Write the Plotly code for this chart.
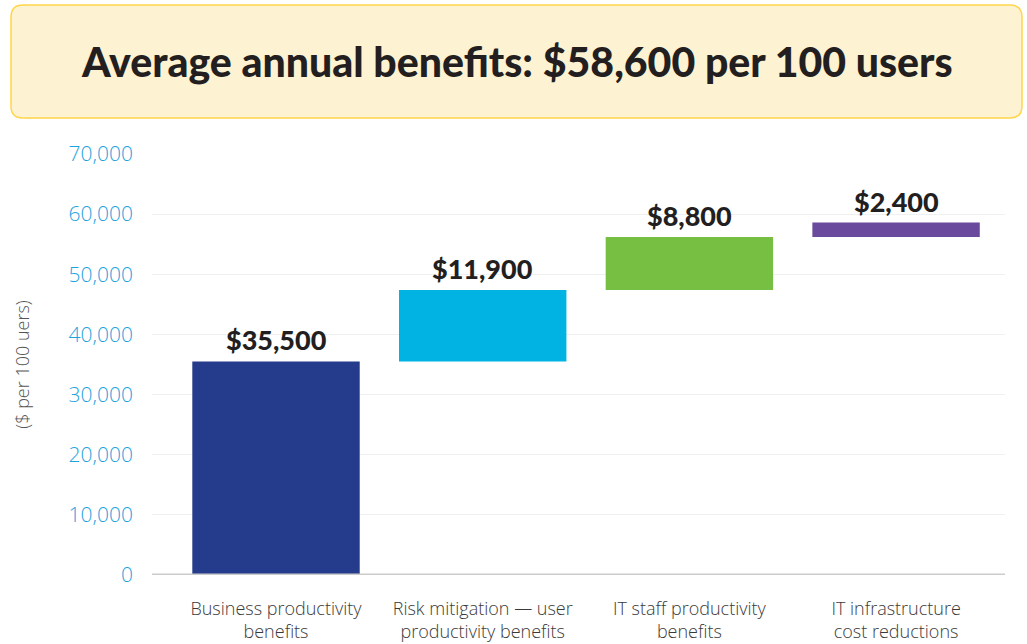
import plotly.graph_objects as go

categories = ["Business productivity<br>benefits",
              "Risk mitigation — user<br>productivity benefits",
              "IT staff productivity<br>benefits",
              "IT infrastructure<br>cost reductions"]
values = [35500, 11900, 8800, 2400]
labels = ["$35,500", "$11,900", "$8,800", "$2,400"]
colors = ["#243C8B", "#00B3E2", "#76BF43", "#6A4A9C"]
title_text = "Average annual benefits: $58,600 per 100 users"
y_title = "($ per 100 uers)"
y_ticks = [0, 10000, 20000, 30000, 40000, 50000, 60000, 70000]

bases = []
acc = 0
for v in values:
    bases.append(acc)
    acc += v

W, H = 1027, 644
ML, MR, MT, MB = 152, 22, 154, 69
PW, PH = W - ML - MR, H - MT - MB

fig = go.Figure()
fig.add_trace(go.Bar(
    x=categories, y=values, base=bases,
    marker=dict(color=colors, line=dict(width=0)),
    width=0.81, hoverinfo="skip",
))

for c, b, v, t in zip(categories, bases, values, labels):
    fig.add_annotation(x=c, y=b + v, text=t, showarrow=False, yanchor="bottom",
                       yshift=3, xref="x", yref="y",
                       font=dict(family="Lato, Open Sans, sans-serif", size=27,
                                 color="#231F20", weight=900))

def px2paper(px, py):
    return (px - ML) / PW, (MT + PH - py) / PH

# rounded title box
x0, y0, x1, y1, r = 11, 5, 1022, 118, 12
def P(px, py):
    a, b = px2paper(px, py)
    return f"{a:.5f},{b:.5f}"
path = (f"M {P(x0 + r, y0)} L {P(x1 - r, y0)} Q {P(x1, y0)} {P(x1, y0 + r)} "
        f"L {P(x1, y1 - r)} Q {P(x1, y1)} {P(x1 - r, y1)} "
        f"L {P(x0 + r, y1)} Q {P(x0, y1)} {P(x0, y1 - r)} "
        f"L {P(x0, y0 + r)} Q {P(x0, y0)} {P(x0 + r, y0)} Z")
fig.add_shape(type="path", path=path, xref="paper", yref="paper",
              fillcolor="#FDF2D1", line=dict(color="#FFD54A", width=1.5), layer="below")

tx, ty = px2paper(517, 62)
fig.add_annotation(x=tx, y=ty, xref="paper", yref="paper", text=title_text,
                   showarrow=False, xanchor="center", yanchor="middle",
                   font=dict(family="Lato, sans-serif", size=41,
                             color="#231F20", weight=900))

# zero baseline
fig.add_shape(type="line", xref="paper", yref="y", x0=0, x1=1, y0=0, y1=0,
              line=dict(color="#CCCCCC", width=3), layer="above")

fig.update_layout(
    width=W, height=H,
    margin=dict(l=ML, r=MR, t=MT, b=MB, autoexpand=False),
    paper_bgcolor="white", plot_bgcolor="white",
    showlegend=False,
    xaxis=dict(range=[-0.6, 3.527], showgrid=False, zeroline=False, showline=False,
               ticks="", ticklabelstandoff=21, automargin=False,
               tickfont=dict(family="Open Sans, sans-serif", size=18, color="#3A3A3A", weight=300)),
    yaxis=dict(range=[0, 70000], tickvals=y_ticks,
               ticktext=[f"{v:,}" for v in y_ticks],
               showgrid=True, gridcolor="#F0F0F0", gridwidth=1,
               zeroline=False, showline=False, ticks="", automargin=False,
               ticklabelstandoff=18,
               tickfont=dict(family="Open Sans, sans-serif", size=21, color="#1FA3DE", weight=300),
               title=dict(text=y_title, standoff=34,
                          font=dict(family="Open Sans, sans-serif", size=18, color="#555555", weight=300))),
)

fig.write_html("out.html", config={"displayModeBar": False},
               post_script="document.body.style.margin='0';document.body.style.padding='0';")
